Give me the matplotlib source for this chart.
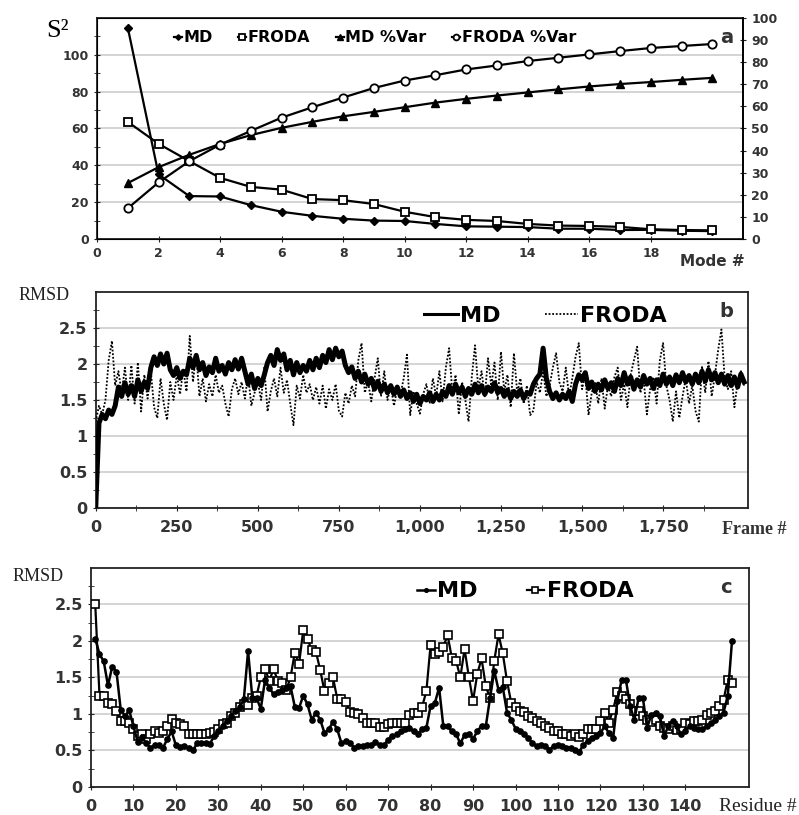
import numpy as np
import matplotlib
matplotlib.use('agg')
from matplotlib import pyplot as plt
from matplotlib.ticker import MultipleLocator, FuncFormatter

# ---- panel a: mode variance ----
modes = list(range(1, 21))
md_s2 = [114.8, 35.1, 23.3, 23.1, 18.4, 14.8, 12.6, 11.0, 10.0, 9.8,
         8.2, 6.9, 6.7, 6.5, 5.6, 5.6, 4.9, 5.0, 4.5, 4.3]
froda_s2 = [63.6, 51.7, 42.3, 33.2, 28.3, 26.8, 21.7, 21.1, 19.0, 14.8,
            11.9, 10.4, 9.8, 8.2, 7.3, 7.1, 6.6, 5.3, 4.9, 4.7]
md_var = [25.3, 32.5, 38.1, 43.0, 47.0, 50.3, 53.0, 55.5, 57.5, 59.6,
          61.7, 63.4, 64.9, 66.3, 67.7, 69.0, 70.1, 71.0, 72.0, 72.9]
froda_var = [13.9, 25.6, 35.2, 42.7, 48.9, 54.9, 59.6, 64.0, 68.3, 71.7,
             74.1, 76.7, 78.5, 80.5, 82.0, 83.5, 85.0, 86.4, 87.3, 88.2]

# ---- panel b: RMSD along trajectory (every 10th frame) ----
frames = list(range(0, 2001, 10))
md_frame = [
    0.00, 1.18, 1.30, 1.24, 1.36, 1.30, 1.42, 1.68, 1.55, 1.74,
    1.58, 1.70, 1.55, 1.78, 1.62, 1.75, 1.66, 1.95, 2.10, 1.98,
    2.14, 2.00, 2.15, 1.92, 1.84, 1.95, 1.80, 1.90, 1.85, 2.08,
    1.95, 2.12, 1.92, 2.02, 1.84, 1.96, 1.88, 2.08, 1.90, 1.98,
    1.86, 2.02, 1.92, 2.06, 1.93, 2.08, 1.90, 1.72, 1.86, 1.66,
    1.80, 1.70, 1.85, 2.02, 2.12, 1.98, 2.20, 2.05, 2.14, 1.92,
    2.05, 1.85, 2.02, 1.88, 1.98, 1.90, 2.05, 1.92, 2.08, 1.95,
    2.12, 2.02, 2.20, 2.06, 2.22, 2.10, 2.18, 1.98, 1.88, 1.96,
    1.80, 1.90, 1.75, 1.86, 1.72, 1.80, 1.65, 1.76, 1.62, 1.72,
    1.60, 1.70, 1.58, 1.68, 1.55, 1.64, 1.52, 1.60, 1.48, 1.58,
    1.45, 1.55, 1.50, 1.60, 1.48, 1.58, 1.50, 1.62, 1.55, 1.70,
    1.58, 1.72, 1.60, 1.68, 1.55, 1.66, 1.58, 1.72, 1.60, 1.70,
    1.58, 1.68, 1.62, 1.74, 1.60, 1.66, 1.55, 1.64, 1.52, 1.62,
    1.55, 1.64, 1.52, 1.60, 1.58, 1.72, 1.80, 1.86, 2.22, 1.80,
    1.62, 1.52, 1.60, 1.50, 1.58, 1.52, 1.62, 1.48, 1.72, 1.85,
    1.78, 1.88, 1.66, 1.75, 1.62, 1.72, 1.64, 1.78, 1.66, 1.74,
    1.62, 1.80, 1.70, 1.88, 1.72, 1.82, 1.65, 1.78, 1.68, 1.84,
    1.72, 1.80, 1.66, 1.78, 1.70, 1.86, 1.72, 1.82, 1.70, 1.85,
    1.74, 1.88, 1.75, 1.84, 1.72, 1.86, 1.74, 1.90, 1.76, 1.92,
    1.78, 1.88, 1.74, 1.86, 1.72, 1.84, 1.70, 1.82, 1.68, 1.86,
    1.75]
froda_frame = [
    1.20, 1.42, 1.30, 1.50, 2.05, 2.32, 1.70, 1.90, 1.60, 1.95,
    1.50, 1.98, 1.45, 2.02, 1.34, 1.85, 1.52, 1.90, 1.40, 1.25,
    1.80, 1.45, 1.22, 1.75, 1.50, 1.85, 1.58, 1.92, 1.62, 2.39,
    1.75, 2.15, 1.55, 1.80, 1.48, 1.72, 1.55, 1.85, 1.60, 1.70,
    1.45, 1.27, 1.65, 1.80, 1.58, 1.75, 1.52, 1.85, 1.42, 1.60,
    1.75, 1.50, 1.95, 1.34, 1.62, 1.80, 1.55, 1.95, 1.60, 1.78,
    1.45, 1.15, 1.70, 1.52, 1.85, 1.60, 1.72, 1.50, 1.68, 1.45,
    1.70, 1.38, 1.65, 1.50, 1.72, 1.35, 1.27, 1.60, 1.45, 1.70,
    1.55, 2.05, 2.29, 1.60, 1.75, 1.48, 1.80, 2.08, 1.55, 1.90,
    1.50, 1.70, 1.42, 1.65, 1.58, 1.80, 2.13, 1.29, 1.62, 1.45,
    1.31, 1.58, 1.72, 1.45, 1.80, 1.55, 1.90, 1.48, 1.95, 2.22,
    1.60, 1.85, 1.30, 1.75, 1.50, 1.20, 1.82, 2.26, 1.65, 1.90,
    1.55, 2.08, 1.70, 2.02, 1.50, 2.17, 1.62, 1.85, 1.40, 2.15,
    1.60, 1.80, 1.45, 1.70, 1.29, 1.35, 1.75, 1.60, 1.90, 1.55,
    1.70, 1.95, 2.15, 1.75, 1.62, 1.95, 1.55, 1.80, 2.10, 2.29,
    1.65, 1.85, 1.29, 1.60, 1.75, 1.45, 1.80, 1.38, 1.70, 1.55,
    1.82, 1.95, 1.50, 1.72, 1.40, 1.85, 2.05, 2.24, 1.60, 1.78,
    1.30, 1.65, 1.82, 1.45, 2.05, 2.29, 1.70, 1.50, 1.20, 1.62,
    1.25, 1.55, 1.80, 1.45, 1.70, 1.35, 1.20, 1.97, 1.60, 2.04,
    1.55, 1.85, 2.20, 2.48, 1.80, 1.65, 1.90, 1.40, 1.75, 1.90,
    1.70]

# ---- panel c: per-residue RMSD ----
residues = list(range(1, 152))
md_res = [
    2.03, 1.82, 1.72, 1.39, 1.65, 1.58, 1.06, 0.97, 1.05, 0.83,
    0.62, 0.68, 0.60, 0.54, 0.57, 0.58, 0.54, 0.66, 0.76, 0.57,
    0.55, 0.56, 0.54, 0.50, 0.60, 0.60, 0.60, 0.59, 0.70, 0.76,
    0.83, 0.90, 0.97, 1.04, 1.09, 1.20, 1.86, 1.22, 1.22, 1.07,
    1.47, 1.36, 1.27, 1.30, 1.33, 1.35, 1.38, 1.10, 1.08, 1.25,
    1.13, 0.92, 1.02, 0.92, 0.74, 0.79, 0.89, 0.79, 0.60, 0.63,
    0.60, 0.54, 0.56, 0.56, 0.57, 0.57, 0.61, 0.58, 0.57, 0.65,
    0.70, 0.72, 0.76, 0.79, 0.81, 0.76, 0.72, 0.79, 0.81, 1.11,
    1.15, 1.36, 0.83, 0.84, 0.76, 0.72, 0.60, 0.71, 0.73, 0.66,
    0.76, 0.84, 0.83, 1.22, 1.59, 1.33, 1.37, 1.02, 0.92, 0.80,
    0.76, 0.72, 0.67, 0.60, 0.56, 0.58, 0.56, 0.51, 0.56, 0.58,
    0.56, 0.54, 0.54, 0.51, 0.48, 0.58, 0.63, 0.67, 0.70, 0.74,
    0.83, 0.74, 0.67, 1.18, 1.47, 1.47, 1.11, 0.92, 1.22, 1.22,
    0.81, 0.99, 1.02, 0.97, 0.70, 0.83, 0.90, 0.83, 0.72, 0.76,
    0.83, 0.81, 0.80, 0.80, 0.83, 0.88, 0.92, 0.97, 1.02, 1.25,
    2.00]
froda_res = [
    2.50, 1.25, 1.25, 1.15, 1.13, 1.04, 0.90, 0.90, 0.88, 0.79,
    0.70, 0.72, 0.66, 0.73, 0.76, 0.74, 0.76, 0.84, 0.93, 0.87,
    0.86, 0.84, 0.73, 0.73, 0.73, 0.73, 0.73, 0.74, 0.75, 0.80,
    0.86, 0.88, 0.97, 1.02, 1.09, 1.13, 1.12, 1.22, 1.25, 1.50,
    1.62, 1.45, 1.62, 1.45, 1.42, 1.33, 1.50, 1.84, 1.68, 2.15,
    2.03, 1.87, 1.85, 1.60, 1.31, 1.43, 1.50, 1.21, 1.21, 1.16,
    1.03, 1.02, 1.00, 0.95, 0.88, 0.87, 0.88, 0.82, 0.82, 0.86,
    0.88, 0.87, 0.87, 0.88, 0.99, 1.02, 1.02, 1.10, 1.31, 1.95,
    1.82, 1.85, 1.92, 2.08, 1.77, 1.73, 1.50, 1.89, 1.51, 1.18,
    1.55, 1.76, 1.38, 1.22, 1.73, 2.09, 1.83, 1.45, 1.15, 1.09,
    1.04, 1.03, 0.97, 0.95, 0.90, 0.88, 0.83, 0.81, 0.76, 0.76,
    0.73, 0.73, 0.70, 0.73, 0.69, 0.73, 0.79, 0.79, 0.79, 0.90,
    1.02, 0.88, 1.06, 1.30, 1.25, 1.21, 1.13, 1.04, 1.04, 0.97,
    0.92, 0.89, 0.92, 0.83, 0.81, 0.79, 0.83, 0.78, 0.79, 0.88,
    0.86, 0.90, 0.90, 0.92, 0.99, 1.02, 1.04, 1.11, 1.19, 1.47,
    1.42]

assert len(frames) == len(md_frame) == len(froda_frame)
assert len(residues) == len(md_res) == len(froda_res)

SERIF = 'Liberation Serif'
GRID = '#d4d4d4'


def style_axis(ax, size):
    ax.grid(axis='y', color=GRID, linewidth=1.4, zorder=0)
    ax.set_axisbelow(True)
    for s in ax.spines.values():
        s.set_color('#222222')
        s.set_linewidth(1.3)
    ax.tick_params(which='both', direction='inout', colors='#222222',
                   labelcolor='#333333', labelsize=size)
    ax.tick_params(which='major', length=5)
    ax.tick_params(which='minor', length=4)
    for lab in ax.get_xticklabels() + ax.get_yticklabels():
        lab.set_fontweight('bold')


fig = plt.figure(figsize=(7.99, 8.15), dpi=100)

# ---------------- a ----------------
ax = fig.add_axes([0.1214, 0.7067, 0.8086, 0.2713])
ax.plot(modes, md_s2, color='black', lw=1.6, marker='D', ms=4,
        mfc='black', mec='black', label='MD', zorder=3)
ax.plot(modes, froda_s2, color='black', lw=1.6, marker='s', ms=6,
        mfc='white', mec='black', mew=1.3, label='FRODA', zorder=3)
ax2 = ax.twinx()
ax2.plot(modes, md_var, color='black', lw=1.6, marker='^', ms=5.5,
         mfc='black', mec='black', label='MD %Var', zorder=3)
ax2.plot(modes, froda_var, color='black', lw=1.6, marker='o', ms=6,
         mfc='white', mec='black', mew=1.3, label='FRODA %Var', zorder=3)
ax.set_xlim(0, 21)
ax.set_ylim(0, 120)
ax2.set_ylim(0, 100)
ax.set_xticks(range(0, 19, 2))
ax.set_yticks(range(0, 101, 20))
ax.set_yticks(range(10, 120, 10), minor=True)
ax2.set_yticks(range(0, 101, 10))
style_axis(ax, 9)
ax2.tick_params(direction='inout', length=5, labelsize=9,
                colors='#222222', labelcolor='#333333')
for lab in ax2.get_yticklabels():
    lab.set_fontweight('bold')
ax2.spines['right'].set_linewidth(1.3)
ax.text(20.0, -12, 'Mode #', ha='center', va='center', fontsize=11,
        fontweight='bold', color='#333333')
fig.text(0.072, 0.962, 'S\u00b2', family=SERIF, fontsize=19, ha='center',
         va='center')
h1, l1 = ax.get_legend_handles_labels()
h2, l2 = ax2.get_legend_handles_labels()
ax2.legend(h1 + h2, l1 + l2, loc='upper center', ncol=4, frameon=False,
           handlelength=0.5, handletextpad=0.1, columnspacing=1.6,
           markerscale=0.7, bbox_to_anchor=(0.43, 1.01),
           prop=dict(family='DejaVu Sans', weight='bold', size=11.5))
ax2.text(0.975, 0.91, 'a', transform=ax2.transAxes, fontsize=14,
         fontweight='bold', ha='center', va='center', color='#333333')

# ---------------- b ----------------
bx = fig.add_axes([0.1198, 0.3767, 0.8164, 0.265])
bx.plot(frames, md_frame, color='black', lw=3.6, label='MD', zorder=3)
bx.plot(frames, froda_frame, color='black', lw=1.3, ls=(0, (1, 1)),
        label='FRODA', zorder=4)
bx.set_xlim(0, 2012)
bx.set_ylim(0, 3)
bx.set_xticks(range(0, 1751, 250))
bx.set_xticks(range(125, 2001, 250), minor=True)
bx.set_yticks([0, 0.5, 1, 1.5, 2, 2.5])
bx.set_yticks(np.arange(0.25, 3.0, 0.5), minor=True)
bx.xaxis.set_major_formatter(FuncFormatter(lambda v, p: f'{int(v):,}'))
bx.yaxis.set_major_formatter(FuncFormatter(lambda v, p: f'{v:g}'))
style_axis(bx, 11.5)
bx.tick_params(axis='x', pad=6)
bx.text(2030, -0.3, 'Frame #', ha='center', va='center', family=SERIF,
        fontsize=13, fontweight='bold', color='#333333')
fig.text(0.055, 0.637, 'RMSD', family=SERIF, fontsize=13, ha='center',
         va='center', color='#222222')
leg = bx.legend(loc='upper center', ncol=2, frameon=False, handlelength=1.5,
                handletextpad=0.1, columnspacing=2.0,
                bbox_to_anchor=(0.69, 1.03),
                prop=dict(family='DejaVu Sans', weight='bold', size=16))
leg.get_lines()[0].set_linewidth(2.2)
bx.text(0.966, 0.91, 'b', transform=bx.transAxes, fontsize=14,
        fontweight='bold', ha='center', va='center', color='#333333')

# ---------------- c ----------------
cx = fig.add_axes([0.1139, 0.0344, 0.8235, 0.2687])
cx.plot(residues, md_res, color='black', lw=1.8, marker='o', ms=3.8,
        mfc='black', mec='black', label='MD', zorder=4)
cx.plot(residues, froda_res, color='black', lw=1.6, marker='s', ms=6,
        mfc='white', mec='black', mew=1.2, label='FRODA', zorder=3)
cx.set_xlim(0, 155)
cx.set_ylim(0, 3)
cx.set_xticks(range(0, 141, 10))
cx.set_yticks([0, 0.5, 1, 1.5, 2, 2.5])
cx.set_yticks(np.arange(0.25, 3.0, 0.5), minor=True)
cx.yaxis.set_major_formatter(FuncFormatter(lambda v, p: f'{v:g}'))
style_axis(cx, 11.5)
cx.tick_params(axis='x', pad=6)
fig.text(0.997, 0.011, 'Residue #', ha='right', va='center', family=SERIF,
         fontsize=14, color='#222222')
fig.text(0.048, 0.293, 'RMSD', family=SERIF, fontsize=13, ha='center',
         va='center', color='#222222')
cx.legend(loc='upper center', ncol=2, frameon=False, handlelength=0.8,
          handletextpad=0.1, columnspacing=2.2, markerscale=0.7,
          bbox_to_anchor=(0.66, 1.03),
          prop=dict(family='DejaVu Sans', weight='bold', size=16))
cx.text(0.965, 0.91, 'c', transform=cx.transAxes, fontsize=14,
        fontweight='bold', ha='center', va='center', color='#333333')

fig.savefig('out.png', dpi=100)
